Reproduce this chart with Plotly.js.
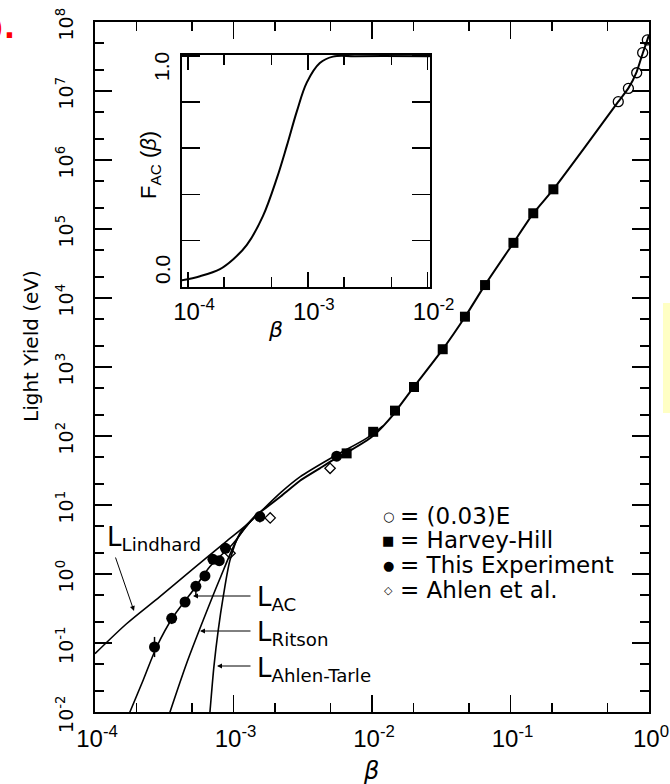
<!DOCTYPE html>
<html><head><meta charset="utf-8">
<script src="https://cdn.plot.ly/plotly-3.0.1.min.js"></script>
<style>body{margin:0;background:#fff}#chart{width:670px;height:784px}</style>
</head><body><div id="chart"></div>
<script>
// ---- tick labels ----
const xTickVals = [1e-4, 1e-3, 1e-2, 1e-1, 1];
const xTickText = ['10<sup>-4</sup>', '10<sup>-3</sup>', '10<sup>-2</sup>', '10<sup>-1</sup>', '10<sup>0</sup>'];
const xMinorVals = [2e-4, 5e-4, 2e-3, 5e-3, 2e-2, 5e-2, 0.2, 0.5];
const yTickVals = [1e-2, 1e-1, 1, 1e1, 1e2, 1e3, 1e4, 1e5, 1e6, 1e7, 1e8];
const yTickText = ['10<sup>-2</sup>', '10<sup>-1</sup>', '10<sup>0</sup>', '10<sup>1</sup>', '10<sup>2</sup>', '10<sup>3</sup>', '10<sup>4</sup>', '10<sup>5</sup>', '10<sup>6</sup>', '10<sup>7</sup>', '10<sup>8</sup>'];
const yMinorVals = [0.02, 0.05, 0.2, 0.5, 2, 5, 20, 50, 200, 500, 2e3, 5e3, 2e4, 5e4, 2e5, 5e5, 2e6, 5e6, 2e7, 5e7];
const insetXTickVals = [1e-4, 1e-3, 1e-2];
const insetXTickText = ['10<sup>-4</sup>', '10<sup>-3</sup>', '10<sup>-2</sup>'];
const insetXMinorVals = [2e-4, 5e-4, 2e-3, 5e-3];
const insetYTickVals = [0, 0.2, 0.4, 0.6, 0.8, 1.0];
const insetYLabels = ['0.0', '1.0'];

// ---- data points ----
const betaE = [0.600, 0.710, 0.815, 0.900, 0.973];
const lightE = [7.0e6, 1.09e7, 1.84e7, 3.59e7, 5.5e7];

const betaHH = [0.00656, 0.0102, 0.01466, 0.0201, 0.0324, 0.0469, 0.0655, 0.105, 0.146, 0.204];
const lightHH = [56, 115, 233, 513, 1810, 5360, 15400, 63000, 169000, 376000];

const betaExp = [2.69e-4, 3.58e-4, 4.47e-4, 5.35e-4, 6.22e-4, 7.10e-4, 7.89e-4, 8.75e-4, 1.55e-3, 5.56e-3];
const lightExp = [0.0875, 0.228, 0.393, 0.664, 0.936, 1.63, 1.56, 2.36, 6.8, 51];
const errExpPlus = [0.035, 0.04, 0.05, 0.1, 0, 0, 0, 0.3, 1.2, 0];
const errExpMinus = [0.025, 0.04, 0.05, 0.17, 0, 0, 0, 0.3, 1.2, 0];

const betaAhlen = [9.44e-4, 1.84e-3, 4.98e-3];
const lightAhlen = [2.0, 6.5, 34];

// ---- theory curves ----
const betaLind = [1e-4, 1.69e-4, 2.94e-4, 5.13e-4, 8.93e-4, 1.32e-3, 1.5e-3, 2.2e-3, 3.02e-3, 5.26e-3, 9.17e-3, 1.2e-2];
const lightLind = [0.07, 0.19, 0.47, 1.2, 3.0, 5.7, 7.3, 15.2, 25.5, 50, 93, 140];

const betaAC = [1.6e-4, 1.79e-4, 2.23e-4, 2.79e-4, 3.67e-4, 5.13e-4, 6.76e-4, 9.98e-4, 1.2e-3, 1.45e-3];
const lightAC = [0.0059, 0.0101, 0.0291, 0.0883, 0.24, 0.586, 1.28, 2.79, 4.56, 7.1];

const betaRitson = [3.3e-4, 3.48e-4, 4.59e-4, 6.05e-4, 8.0e-4, 1.055e-3, 1.25e-3, 1.45e-3];
const lightRitson = [0.0072, 0.01, 0.0508, 0.215, 0.867, 3.11, 5.0, 7.1];

const betaAT = [6.6e-4, 6.76e-4, 7.22e-4, 7.76e-4, 8.43e-4, 9.44e-4, 1.115e-3, 1.45e-3];
const lightAT = [0.0058, 0.01, 0.0454, 0.154, 0.469, 1.60, 3.93, 7.1];

const betaMain = [1.45e-3, 1.7e-3, 2.2e-3, 3.02e-3, 4.2e-3, 5.26e-3, 7e-3, 9.17e-3, 1.05e-2, 1.2e-2, 1.4e-2, 1.6e-2, 2.0e-2, 3.24e-2, 4.69e-2, 6.55e-2, 0.105, 0.146, 0.204, 0.35, 0.6, 0.71, 0.815, 0.9, 0.973, 1.0];
const lightMain = [7.1, 9.0, 13.4, 22.5, 34, 45, 62, 86, 106, 138, 195, 280, 510, 1800, 5300, 15500, 63000, 168000, 375000, 1.6e6, 7.0e6, 1.1e7, 1.9e7, 3.5e7, 5.5e7, 6.5e7];

// ---- inset F_AC(beta) ----
const fBeta = [8.91e-5, 1.26e-4, 1.85e-4, 2.39e-4, 3.1e-4, 4.22e-4, 5.52e-4, 6.68e-4, 8.1e-4, 9.8e-4, 1.26e-3, 1.62e-3, 2.5e-3, 1.04e-2];
const fVal = [0.026, 0.044, 0.075, 0.118, 0.18, 0.305, 0.47, 0.61, 0.76, 0.885, 0.97, 0.998, 1.0, 1.0];

// ---- legend & labels ----
const legendSymbols = ['○', '■', '●', '◇'];
const legendLabels = ['(0.03)E', 'Harvey-Hill', 'This Experiment', 'Ahlen et al.'];
const curveLabels = ['L<sub>Lindhard</sub>', 'L<sub>AC</sub>', 'L<sub>Ritson</sub>', 'L<sub>Ahlen-Tarle</sub>'];
const xTitle = '<i>β</i>';
const yTitle = 'Light Yield (eV)';
const insetYTitle = 'F<sub>AC</sub> (<i>β</i>)';

// ---------------------------------------------------------
const FONT = 'DejaVu Sans, Liberation Sans, Arial, sans-serif';
const HFONT = 'Liberation Sans, Arial, sans-serif';
const W = 670, H = 784, ML = 95, MR = 21, MT = 22, MB = 72;
const PW = W - ML - MR, PH = H - MT - MB;
const px = x => (x - ML) / PW;
const py = y => 1 - (y - MT) / PH;

const lineStyle = {color: 'black', width: 1.6, shape: 'spline', smoothing: 0.8};
const traces = [
  {x: betaLind, y: lightLind, mode: 'lines', line: lineStyle},
  {x: betaAC, y: lightAC, mode: 'lines', line: lineStyle},
  {x: betaRitson, y: lightRitson, mode: 'lines', line: lineStyle},
  {x: betaAT, y: lightAT, mode: 'lines', line: lineStyle},
  {x: betaMain, y: lightMain, mode: 'lines', line: {color: 'black', width: 2, shape: 'spline', smoothing: 0.5}},
  {x: betaE, y: lightE, mode: 'markers', name: '(0.03)E',
   marker: {symbol: 'circle-open', size: 10, color: 'black', line: {width: 1.3, color: 'black'}}},
  {x: betaHH, y: lightHH, mode: 'markers', name: 'Harvey-Hill',
   marker: {symbol: 'square', size: 10, color: 'black'}},
  {x: betaExp, y: lightExp, mode: 'markers', name: 'This Experiment',
   error_y: {type: 'data', symmetric: false, array: errExpPlus, arrayminus: errExpMinus, width: 0, thickness: 1.5, color: 'black'},
   marker: {symbol: 'circle', size: 11, color: 'black'}},
  {x: betaAhlen, y: lightAhlen, mode: 'markers', name: 'Ahlen et al.',
   marker: {symbol: 'diamond-open', size: 8, color: 'black', line: {width: 1.3, color: 'black'}}},
  {x: fBeta, y: fVal, xaxis: 'x2', yaxis: 'y2', mode: 'lines',
   line: {color: 'black', width: 2, shape: 'spline', smoothing: 1}}
];
traces.forEach(t => t.showlegend = false);

const annotations = [];
function note(xpx, ypx, text, font, extra) {
  annotations.push(Object.assign({xref: 'paper', yref: 'paper', x: px(xpx), y: py(ypx), text: text, showarrow: false,
    xanchor: 'center', yanchor: 'middle', font: font}, extra || {}));
}
// legend
const legRows = [516, 540, 565, 590];
legendLabels.forEach((lab, i) => {
  note(388, legRows[i], legendSymbols[i], {family: FONT, size: i === 3 ? 11 : 13, color: 'black'});
  note(398, legRows[i], '= ' + lab, {family: FONT, size: 23, color: 'black'}, {xanchor: 'left'});
});
// curve labels
const curvePos = [[105, 538], [255, 598], [255, 633], [255, 669]];
curveLabels.forEach((t, i) => {
  note(curvePos[i][0], curvePos[i][1], t, {family: FONT, size: 26, color: 'black'}, {xanchor: 'left'});
});
// arrows [headX, headY, tailX, tailY]
const arrows = [[134, 611, 115, 556], [193, 596, 252, 596], [200, 631, 252, 631], [217, 666, 252, 666]];
arrows.forEach(a => {
  annotations.push({xref: 'paper', yref: 'paper', x: px(a[0]), y: py(a[1]), ax: a[2] - a[0], ay: a[3] - a[1],
    text: '', showarrow: true, arrowhead: 2, arrowsize: 1, arrowwidth: 1, arrowcolor: 'black', standoff: 0, startstandoff: 0});
});
// axis titles
note(31, 346, yTitle, {family: FONT, size: 20, color: 'black'}, {textangle: -90});
note(371, 771, xTitle, {family: FONT, size: 24, color: 'black'});
note(275, 329, xTitle, {family: FONT, size: 22, color: 'black'});
// inset y labels and title
note(162, 270, insetYLabels[0], {family: HFONT, size: 21, color: 'black'}, {textangle: -90});
note(162, 67, insetYLabels[1], {family: HFONT, size: 21, color: 'black'}, {textangle: -90});
note(150, 165, insetYTitle, {family: HFONT, size: 22, color: 'black'}, {textangle: -90});
// red fragment at top-left (cut off by the page edge, as in the reference)
note(17, 28, '<b>).</b>', {family: FONT, size: 30, color: '#ff0000'}, {xanchor: 'right'});

const axCommon = {
  showline: true, linecolor: 'black', linewidth: 2, mirror: 'allticks', ticks: 'inside', tickcolor: 'black',
  showgrid: false, zeroline: false, ticklabeloverflow: 'allow'
};

const layout = {
  width: W, height: H,
  margin: {l: ML, r: MR, t: MT, b: MB},
  paper_bgcolor: 'white', plot_bgcolor: 'white',
  showlegend: false,
  xaxis: Object.assign({}, axCommon, {
    type: 'log', range: [-4, 0], domain: [0, 1], anchor: 'y',
    tickvals: xTickVals, ticktext: xTickText, ticklen: 17, tickwidth: 1.5,
    tickfont: {family: HFONT, size: 24, color: 'black'}, ticklabelstandoff: 4, ticklabelshift: 2,
    minor: {tickvals: xMinorVals, ticks: 'inside', ticklen: 9, tickwidth: 1.5, tickcolor: 'black'}
  }),
  yaxis: Object.assign({}, axCommon, {
    type: 'log', range: [-2, 8], domain: [0, 1], anchor: 'x',
    tickvals: yTickVals, ticktext: yTickText, ticklen: 17, tickwidth: 1.5, tickangle: -90,
    tickfont: {family: FONT, size: 19, color: 'black'}, ticklabelstandoff: 12, ticklabelshift: 5,
    minor: {tickvals: yMinorVals, ticks: 'inside', ticklen: 9, tickwidth: 1.5, tickcolor: 'black'}
  }),
  xaxis2: Object.assign({}, axCommon, {
    type: 'log', range: [-4.05, -1.98], domain: [px(182), px(430)], anchor: 'y2',
    tickvals: insetXTickVals, ticktext: insetXTickText, ticklen: 15, tickwidth: 1.5,
    tickfont: {family: HFONT, size: 24, color: 'black'}, ticklabelstandoff: 2, ticklabelshift: 6,
    minor: {tickvals: insetXMinorVals, ticks: 'inside', ticklen: 10, tickwidth: 1.5, tickcolor: 'black'}
  }),
  yaxis2: Object.assign({}, axCommon, {
    range: [-0.003, 1.005], domain: [py(287), py(55)], anchor: 'x2',
    tickvals: insetYTickVals, showticklabels: false, ticklen: 18, tickwidth: 1.5
  }),
  annotations: annotations,
  shapes: [
    {type: 'rect', xref: 'paper', yref: 'paper', x0: px(663), x1: px(671), y0: py(413), y1: py(303),
     fillcolor: '#ffffc4', line: {width: 0}, layer: 'above'}
  ]
};

Plotly.newPlot('chart', traces, layout, {staticPlot: true, displayModeBar: false});
</script>
</body></html>
